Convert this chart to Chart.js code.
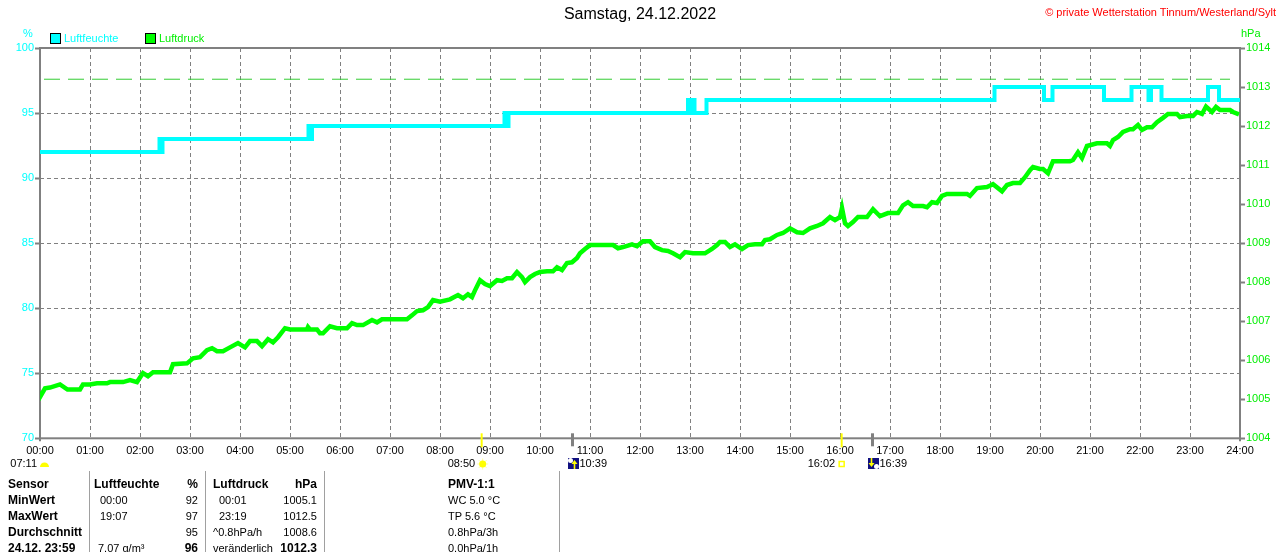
<!DOCTYPE html>
<html>
<head>
<meta charset="utf-8">
<title>Samstag, 24.12.2022</title>
<script src="https://cdn.jsdelivr.net/npm/chart.js@4.4.1/dist/chart.umd.min.js"></script>
<style>
  body { margin: 0; background: #fff; }
  #wrap { position: relative; width: 1280px; height: 552px; overflow: hidden; font-family: "Liberation Sans", Arial, sans-serif; }
  #chart { position: absolute; left: 0; top: 0; }
  .t { position: absolute; white-space: nowrap; line-height: 16px; font-size: 11px; color: #000; }
  .b { font-weight: bold; font-size: 12px; }
  .sep { position: absolute; top: 471px; height: 81px; width: 1px; background: #a0a0a0; }
  .box { position: absolute; top: 33px; width: 9px; height: 9px; border: 1px solid #000; }
</style>
</head>
<body>
<div id="wrap">
  <canvas id="chart" width="1280" height="552"></canvas>

  <div class="t" style="left:0;width:1280px;text-align:center;top:4px;font-size:16px;line-height:20px;">Samstag, 24.12.2022</div>
  <div class="t" style="right:4px;top:4px;color:#ff0000;">© private Wetterstation Tinnum/Westerland/Sylt</div>

  <div class="t" style="left:23px;top:25px;color:#00ffff;">%</div>
  <div class="t" style="left:1241px;top:25px;color:#00ee00;">hPa</div>

  <div class="box" style="left:50px;background:#00ffff;"></div>
  <div class="t" style="left:64px;top:30px;color:#00ffff;">Luftfeuchte</div>
  <div class="box" style="left:145px;background:#00ff00;"></div>
  <div class="t" style="left:159px;top:30px;color:#00ee00;">Luftdruck</div>

  <div class="sep" style="left:89px;"></div>
  <div class="sep" style="left:205px;"></div>
  <div class="sep" style="left:324px;"></div>
  <div class="sep" style="left:559px;"></div>

  <div class="t b" style="left:8px;top:476px;">Sensor</div>
  <div class="t b" style="left:8px;top:492px;">MinWert</div>
  <div class="t b" style="left:8px;top:508px;">MaxWert</div>
  <div class="t b" style="left:8px;top:524px;">Durchschnitt</div>
  <div class="t b" style="left:8px;top:540px;">24.12. 23:59</div>

  <div class="t b" style="left:94px;top:476px;">Luftfeuchte</div>
  <div class="t b" style="right:1082px;top:476px;">%</div>
  <div class="t" style="left:100px;top:492px;">00:00</div>
  <div class="t" style="right:1082px;top:492px;">92</div>
  <div class="t" style="left:100px;top:508px;">19:07</div>
  <div class="t" style="right:1082px;top:508px;">97</div>
  <div class="t" style="right:1082px;top:524px;">95</div>
  <div class="t" style="left:98px;top:540px;">7.07 g/m³</div>
  <div class="t b" style="right:1082px;top:540px;">96</div>

  <div class="t b" style="left:213px;top:476px;">Luftdruck</div>
  <div class="t b" style="right:963px;top:476px;">hPa</div>
  <div class="t" style="left:219px;top:492px;">00:01</div>
  <div class="t" style="right:963px;top:492px;">1005.1</div>
  <div class="t" style="left:219px;top:508px;">23:19</div>
  <div class="t" style="right:963px;top:508px;">1012.5</div>
  <div class="t" style="left:213px;top:524px;">^0.8hPa/h</div>
  <div class="t" style="right:963px;top:524px;">1008.6</div>
  <div class="t" style="left:213px;top:540px;">veränderlich</div>
  <div class="t b" style="right:963px;top:540px;">1012.3</div>

  <div class="t b" style="left:448px;top:476px;">PMV-1:1</div>
  <div class="t" style="left:448px;top:492px;">WC 5.0 °C</div>
  <div class="t" style="left:448px;top:508px;">TP 5.6 °C</div>
  <div class="t" style="left:448px;top:524px;">0.8hPa/3h</div>
  <div class="t" style="left:448px;top:540px;">0.0hPa/1h</div>
</div>

<script>
const FONT = "'Liberation Sans', Arial, sans-serif"

const hourLabels = ['00:00', '01:00', '02:00', '03:00', '04:00', '05:00', '06:00', '07:00', '08:00', '09:00', '10:00', '11:00', '12:00',
  '13:00', '14:00', '15:00', '16:00', '17:00', '18:00', '19:00', '20:00', '21:00', '22:00', '23:00', '24:00']

// Luftfeuchte (%), value holds until the next time (hours)
const humTime = [0, 2.39, 2.42, 2.45, 5.37, 5.40, 5.44, 9.29, 9.33, 9.37, 12.96, 13.0, 13.04, 13.09, 13.33,
  19.09, 20.08, 20.25, 21.28, 21.83, 22.17, 22.22, 22.43, 23.36, 23.58, 24]
const humValue = [92, 93, 92, 93, 94, 93, 94, 95, 94, 95, 96, 95, 96, 95, 96,
  97, 96, 97, 96, 97, 96, 97, 96, 97, 96, 96]

// Luftdruck (hPa)
const pressTime = [0, 0.02, 0.1, 0.2, 0.4, 0.55, 0.8, 0.86, 1.0, 1.14,
  1.34, 1.4, 1.66, 1.8, 1.94, 2.06, 2.16, 2.26, 2.6, 2.66,
  2.94, 3.06, 3.2, 3.34, 3.44, 3.54, 3.66, 3.8, 3.96, 4.1,
  4.2, 4.34, 4.44, 4.56, 4.66, 4.76, 4.9, 5.0, 5.34, 5.36,
  5.4, 5.54, 5.6, 5.66, 5.8, 5.94, 6.14, 6.24, 6.34, 6.46,
  6.64, 6.74, 6.84, 7.0, 7.34, 7.44, 7.54, 7.66, 7.76, 7.86,
  8.0, 8.2, 8.36, 8.46, 8.56, 8.64, 8.7, 8.8, 8.9, 9.0,
  9.14, 9.24, 9.34, 9.44, 9.54, 9.64, 9.7, 9.8, 9.9, 10.0,
  10.14, 10.26, 10.34, 10.44, 10.54, 10.64, 10.74, 10.8, 10.9, 11.0,
  11.46, 11.56, 11.66, 11.84, 11.94, 12.06, 12.2, 12.3, 12.44, 12.56,
  12.66, 12.8, 12.9, 13.06, 13.3, 13.44, 13.54, 13.6, 13.7, 13.8,
  13.9, 14.04, 14.16, 14.3, 14.44, 14.5, 14.6, 14.74, 14.86, 15.0,
  15.14, 15.26, 15.4, 15.54, 15.66, 15.8, 15.9, 16.0, 16.04, 16.1,
  16.16, 16.26, 16.36, 16.54, 16.66, 16.8, 16.96, 17.16, 17.26, 17.36,
  17.46, 17.66, 17.74, 17.84, 17.94, 18.04, 18.14, 18.54, 18.6, 18.74,
  18.94, 19.06, 19.24, 19.34, 19.46, 19.6, 19.7, 19.8, 19.86, 20.0,
  20.06, 20.16, 20.26, 20.4, 20.6, 20.66, 20.76, 20.84, 20.94, 21.14,
  21.34, 21.4, 21.46, 21.56, 21.66, 21.8, 21.86, 21.96, 22.04, 22.14,
  22.24, 22.34, 22.46, 22.56, 22.74, 22.8, 22.94, 23.06, 23.14, 23.24,
  23.32, 23.44, 23.52, 23.6, 23.8, 23.86, 23.98]
const pressValue = [1005.2, 1005.1, 1005.28, 1005.3, 1005.38, 1005.25, 1005.25, 1005.38, 1005.38, 1005.41,
  1005.41, 1005.44, 1005.44, 1005.49, 1005.44, 1005.67, 1005.59, 1005.69, 1005.69, 1005.9,
  1005.92, 1006.05, 1006.08, 1006.26, 1006.31, 1006.23, 1006.23, 1006.33, 1006.44, 1006.33,
  1006.49, 1006.49, 1006.36, 1006.54, 1006.46, 1006.59, 1006.82, 1006.79, 1006.79, 1006.85,
  1006.79, 1006.79, 1006.69, 1006.69, 1006.87, 1006.82, 1006.82, 1006.95, 1006.9, 1006.9,
  1007.03, 1006.97, 1007.05, 1007.05, 1007.05, 1007.15, 1007.26, 1007.28, 1007.36, 1007.54,
  1007.5, 1007.56, 1007.67, 1007.59, 1007.69, 1007.62, 1007.79, 1008.05, 1007.95, 1007.9,
  1008.05, 1008.03, 1008.1, 1008.1, 1008.26, 1008.13, 1008.0, 1008.13, 1008.21, 1008.26,
  1008.28, 1008.28, 1008.38, 1008.31, 1008.49, 1008.51, 1008.62, 1008.74, 1008.85, 1008.95,
  1008.95, 1008.87, 1008.9, 1008.97, 1008.92, 1009.05, 1009.05, 1008.9, 1008.82, 1008.8,
  1008.74, 1008.64, 1008.77, 1008.74, 1008.74, 1008.85, 1008.95, 1009.03, 1009.03, 1008.9,
  1008.97, 1008.85, 1008.95, 1008.97, 1008.97, 1009.08, 1009.1, 1009.21, 1009.26, 1009.38,
  1009.28, 1009.26, 1009.38, 1009.44, 1009.51, 1009.67, 1009.59, 1009.67, 1009.9, 1009.51,
  1009.44, 1009.54, 1009.67, 1009.67, 1009.87, 1009.69, 1009.77, 1009.77, 1009.97, 1010.05,
  1009.95, 1009.95, 1009.92, 1010.05, 1010.03, 1010.21, 1010.26, 1010.26, 1010.21, 1010.41,
  1010.44, 1010.51, 1010.33, 1010.49, 1010.54, 1010.54, 1010.69, 1010.87, 1010.95, 1010.9,
  1010.9, 1010.79, 1011.1, 1011.1, 1011.1, 1011.13, 1011.33, 1011.18, 1011.49, 1011.56,
  1011.56, 1011.49, 1011.64, 1011.72, 1011.85, 1011.92, 1011.92, 1012.03, 1011.9, 1011.97,
  1011.97, 1012.1, 1012.21, 1012.31, 1012.31, 1012.23, 1012.26, 1012.26, 1012.36, 1012.31,
  1012.5, 1012.36, 1012.49, 1012.41, 1012.41, 1012.36, 1012.3]

// dashed pressure reference line
const refTime = [0.08, 23.8]
const refValue = [1013.2, 1013.2]

// sun / moon events below the time axis
const astroTime = [0, 8.8333, 10.65, 16.0333, 16.65]
const astroLabel = ['07:11', '08:50', '10:39', '16:02', '16:39']
const astroKind = ['dawn', 'sunrise', 'moonrise', 'sunset', 'moonset']

const toPoints = (xs, ys) => xs.map((x, i) => ({ x, y: ys[i] }))

const frame = {
  id: 'frame',
  beforeDatasetsDraw (chart) {
    const { ctx, chartArea: a } = chart
    ctx.save()
    ctx.strokeStyle = '#808080'
    ctx.lineWidth = 2
    ctx.strokeRect(a.left, a.top, a.right - a.left, a.bottom - a.top)
    ctx.beginPath()
    ctx.moveTo(a.left, a.bottom)
    ctx.lineTo(a.left, a.bottom + 3)
    ctx.moveTo(a.right, a.bottom)
    ctx.lineTo(a.right, a.bottom + 3)
    ctx.stroke()
    ctx.restore()
  }
}

const astro = {
  id: 'astro',
  afterDraw (chart) {
    const { ctx, chartArea: a } = chart
    const xs = chart.scales.x
    const ty = 464
    ctx.save()
    ctx.font = '11px ' + FONT
    ctx.textBaseline = 'middle'
    astroTime.forEach((t, i) => {
      const x = xs.getPixelForValue(t)
      const kind = astroKind[i]
      if (kind === 'sunrise' || kind === 'sunset') {
        ctx.fillStyle = '#ffff00'
        ctx.fillRect(x - 1, a.bottom - 5, 2, 14)
      } else if (kind === 'moonrise' || kind === 'moonset') {
        ctx.fillStyle = '#808080'
        ctx.fillRect(x - 1.5, a.bottom - 5, 3, 13)
      }
      ctx.fillStyle = '#000'
      if (kind === 'dawn') {
        ctx.textAlign = 'right'
        ctx.fillText(astroLabel[i], x - 3, ty)
        ctx.fillStyle = '#ffff00'
        ctx.beginPath()
        ctx.arc(x + 4.5, ty + 3, 4.5, Math.PI, 0)
        ctx.fill()
      } else if (kind === 'sunrise') {
        ctx.textAlign = 'right'
        ctx.fillText(astroLabel[i], x - 6.5, ty)
        ctx.strokeStyle = '#ffff99'
        ctx.lineWidth = 1
        for (let k = 0; k < 8; k++) {
          const ang = k * Math.PI / 4
          ctx.beginPath()
          ctx.moveTo(x + 1 + Math.cos(ang) * 3, ty + Math.sin(ang) * 3)
          ctx.lineTo(x + 1 + Math.cos(ang) * 5.5, ty + Math.sin(ang) * 5.5)
          ctx.stroke()
        }
        ctx.fillStyle = '#ffff00'
        ctx.beginPath()
        ctx.arc(x + 1, ty, 3.5, 0, Math.PI * 2)
        ctx.fill()
      } else if (kind === 'sunset') {
        ctx.textAlign = 'right'
        ctx.fillText(astroLabel[i], x - 6.5, ty)
        ctx.strokeStyle = '#ffff00'
        ctx.lineWidth = 1.5
        ctx.strokeRect(x - 2.5, ty - 2.5, 5, 5)
      } else {
        ctx.textAlign = 'left'
        ctx.fillText(astroLabel[i], x + 7, ty)
        ctx.fillStyle = '#101080'
        ctx.fillRect(x - 4.5, ty - 6, 11, 11)
        ctx.fillStyle = '#ffffff'
        ctx.beginPath()
        if (kind === 'moonrise') ctx.arc(x - 2, ty - 3.5, 2.5, 0, Math.PI * 2)
        else ctx.arc(x + 4, ty + 2.5, 2.5, 0, Math.PI * 2)
        ctx.fill()
        ctx.fillStyle = '#ffff00'
        ctx.beginPath()
        if (kind === 'moonrise') {
          ctx.moveTo(x + 2, ty - 4); ctx.lineTo(x + 5, ty); ctx.lineTo(x - 1, ty)
          ctx.fill()
          ctx.fillRect(x + 1.2, ty, 1.6, 5)
        } else {
          ctx.moveTo(x - 1, ty + 3); ctx.lineTo(x + 2, ty - 1); ctx.lineTo(x - 4, ty - 1)
          ctx.fill()
          ctx.fillRect(x - 1.8, ty - 6, 1.6, 5)
        }
      }
    })
    ctx.restore()
  }
}

// eslint-disable-next-line no-unused-vars, no-undef
const chart = new Chart(document.querySelector('#chart'), {
  type: 'line',
  data: {
    datasets: [{
      label: 'Luftfeuchte',
      data: toPoints(humTime, humValue),
      yAxisID: 'y',
      borderColor: '#00ffff',
      borderWidth: 4,
      stepped: true
    }, {
      label: 'Luftdruck',
      data: toPoints(pressTime, pressValue),
      yAxisID: 'y2',
      borderColor: '#00ff00',
      borderWidth: 4.5
    }, {
      label: 'Referenz',
      data: toPoints(refTime, refValue),
      yAxisID: 'y2',
      borderColor: '#33cc33',
      borderWidth: 1,
      borderDash: [16, 8]
    }]
  },
  options: {
    responsive: false,
    maintainAspectRatio: false,
    animation: false,
    devicePixelRatio: 1,
    layout: { padding: { top: 48, bottom: 93.7, left: 0, right: 0 } },
    elements: { point: { radius: 0 }, line: { tension: 0 } },
    plugins: { legend: { display: false }, tooltip: { enabled: false } },
    scales: {
      x: {
        type: 'linear',
        min: 0,
        max: 24,
        afterFit: s => { s.height = 20 },
        ticks: {
          stepSize: 1,
          autoSkip: false,
          maxRotation: 0,
          padding: 6.5,
          color: '#000',
          font: { size: 11, family: FONT },
          callback: v => hourLabels[v]
        },
        grid: { color: '#808080', drawTicks: false },
        border: { display: false, dash: [4, 3] }
      },
      y: {
        position: 'left',
        min: 70,
        max: 100,
        afterFit: s => { s.width = 40 },
        ticks: { stepSize: 5, padding: 1, color: '#00ffff', font: { size: 11, family: FONT }, callback: v => String(v) },
        grid: { color: '#808080', tickColor: '#808080', tickLength: 5, tickWidth: 2 },
        border: { display: false, dash: [4, 3] }
      },
      y2: {
        position: 'right',
        min: 1004,
        max: 1014,
        afterFit: s => { s.width = 40 },
        ticks: { stepSize: 1, padding: 1, color: '#00ee00', font: { size: 11, family: FONT }, callback: v => String(v) },
        grid: { drawOnChartArea: false, tickColor: '#808080', tickLength: 5, tickWidth: 2 },
        border: { display: false }
      }
    }
  },
  plugins: [frame, astro]
})
</script>
</body>
</html>
